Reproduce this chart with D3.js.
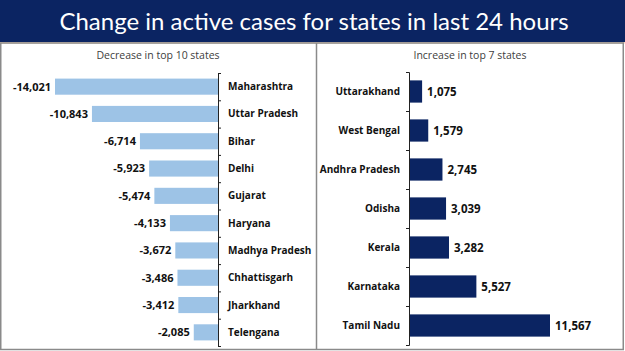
<!DOCTYPE html>
<html>
<head>
<meta charset="utf-8">
<script src="https://cdn.jsdelivr.net/npm/d3@7"></script>
<style>
  html, body { margin: 0; padding: 0; background: #fff; }
  svg { display: block; }
</style>
</head>
<body>
<div id="chart"></div>
<script>
const decStates = ['Maharashtra', 'Uttar Pradesh', 'Bihar', 'Delhi', 'Gujarat', 'Haryana',
    'Madhya Pradesh', 'Chhattisgarh', 'Jharkhand', 'Telengana'];
const decValues = [-14021, -10843, -6714, -5923, -5474, -4133, -3672, -3486, -3412, -2085];

const incStates = ['Uttarakhand', 'West Bengal', 'Andhra Pradesh', 'Odisha', 'Kerala', 'Karnataka', 'Tamil Nadu'];
const incValues = [1075, 1579, 2745, 3039, 3282, 5527, 11567];

const width = 625;
const height = 351;
const navy = '#0b2462';
// plain hyphen for negatives, like the original
const fmt = d => d3.format(',')(d).replace('\u2212', '-');
const labelFont = "'Open Sans', 'Noto Sans', sans-serif";

const svg = d3.select('#chart').append('svg')
    .attr('width', width)
    .attr('height', height);

// title band
svg.append('rect').attr('x', 0).attr('y', 0).attr('width', width).attr('height', 42).attr('fill', navy);
svg.append('rect').attr('x', 0).attr('y', 42).attr('width', width).attr('height', 1.5).attr('fill', '#f3d2b8');
svg.append('text')
    .attr('x', 314)
    .attr('y', 30)
    .attr('text-anchor', 'middle')
    .attr('fill', '#fff')
    .style('font-family', "Lato, 'Open Sans', sans-serif")
    .style('font-size', '24px')
    .text('Change in active cases for states in last 24 hours');

// panel frames
svg.append('rect').attr('x', 0.75).attr('y', 43).attr('width', width - 2.5).attr('height', height - 44.5)
    .attr('fill', 'none').attr('stroke', '#8a8a8a').attr('stroke-width', 1.5);
svg.append('line').attr('x1', 316.5).attr('x2', 316.5).attr('y1', 43).attr('y2', height - 1)
    .attr('stroke', '#8a8a8a').attr('stroke-width', 1.5);

// subtitles
svg.append('text').attr('x', 158).attr('y', 59).attr('text-anchor', 'middle')
    .attr('fill', '#404040').style('font-family', labelFont).style('font-size', '10.5px')
    .text('Decrease in top 10 states');
svg.append('text').attr('x', 470).attr('y', 59).attr('text-anchor', 'middle')
    .attr('fill', '#404040').style('font-family', labelFont).style('font-size', '10.5px')
    .text('Increase in top 7 states');

// left chart: decreases
const axisL = 218;
const xL = d3.scaleLinear().domain([-14021, 0]).range([axisL - 163, axisL]);
const yL = d3.scaleBand().domain(decStates).range([73, 346]).paddingInner(0.41).paddingOuter(0.205);

const left = svg.append('g');
left.selectAll('rect.bar')
    .data(decValues)
    .join('rect')
    .attr('class', 'bar')
    .attr('x', d => xL(d))
    .attr('y', (d, i) => yL(decStates[i]))
    .attr('width', d => xL(0) - xL(d))
    .attr('height', yL.bandwidth())
    .attr('fill', '#9dc3e6');

left.selectAll('text.val')
    .data(decValues)
    .join('text')
    .attr('class', 'val')
    .attr('x', d => xL(d) - 4)
    .attr('y', (d, i) => yL(decStates[i]) + yL.bandwidth() / 2)
    .attr('dy', '0.35em')
    .attr('text-anchor', 'end')
    .attr('fill', '#111')
    .style('font-family', labelFont)
    .style('font-size', '11px')
    .style('font-weight', 'bold')
    .text(d => fmt(d));

const yAxisL = d3.scaleLinear().domain([0, decStates.length]).range([73, 346]);
left.append('g')
    .attr('transform', `translate(${axisL},0)`)
    .call(d3.axisRight(yAxisL).ticks(decStates.length).tickSize(3).tickSizeOuter(3).tickFormat(''))
    .call(g => g.selectAll('path, line').attr('stroke', '#222'));

left.selectAll('text.cat')
    .data(decStates)
    .join('text')
    .attr('class', 'cat')
    .attr('x', axisL + 10)
    .attr('y', d => yL(d) + yL.bandwidth() / 2)
    .attr('dy', '0.35em')
    .attr('fill', '#111')
    .style('font-family', labelFont)
    .style('font-size', '10px')
    .style('font-weight', 'bold')
    .text(d => d);

// right chart: increases
const axisR = 409;
const xR = d3.scaleLinear().domain([0, 11567]).range([axisR, axisR + 141]);
const yR = d3.scaleBand().domain(incStates).range([72, 345]).paddingInner(0.43).paddingOuter(0.215);

const right = svg.append('g');
right.selectAll('rect.bar')
    .data(incValues)
    .join('rect')
    .attr('class', 'bar')
    .attr('x', xR(0))
    .attr('y', (d, i) => yR(incStates[i]))
    .attr('width', d => xR(d) - xR(0))
    .attr('height', yR.bandwidth())
    .attr('fill', navy);

right.selectAll('text.val')
    .data(incValues)
    .join('text')
    .attr('class', 'val')
    .attr('x', d => xR(d) + 5)
    .attr('y', (d, i) => yR(incStates[i]) + yR.bandwidth() / 2)
    .attr('dy', '0.35em')
    .attr('fill', '#111')
    .style('font-family', labelFont)
    .style('font-size', '11.5px')
    .style('font-weight', 'bold')
    .text(d => fmt(d));

const yAxisR = d3.scaleLinear().domain([0, incStates.length]).range([72, 345]);
right.append('g')
    .attr('transform', `translate(${axisR},0)`)
    .call(d3.axisLeft(yAxisR).ticks(incStates.length).tickSize(3).tickSizeOuter(3).tickFormat(''))
    .call(g => g.selectAll('path, line').attr('stroke', '#222'));

right.selectAll('text.cat')
    .data(incStates)
    .join('text')
    .attr('class', 'cat')
    .attr('x', axisR - 9)
    .attr('y', d => yR(d) + yR.bandwidth() / 2)
    .attr('dy', '0.35em')
    .attr('text-anchor', 'end')
    .attr('fill', '#111')
    .style('font-family', labelFont)
    .style('font-size', '10px')
    .style('font-weight', 'bold')
    .text(d => d);
</script>
</body>
</html>
